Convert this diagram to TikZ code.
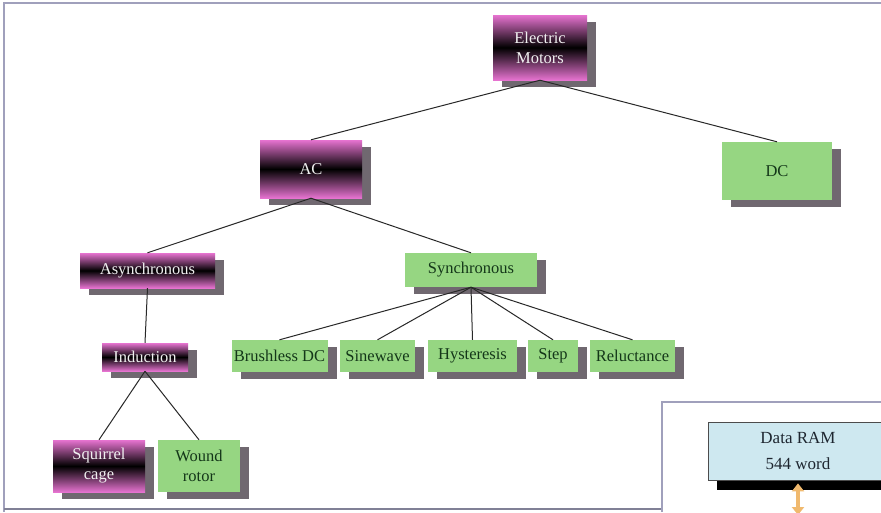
\documentclass[tikz,border=0pt]{standalone}
\usepackage{fontspec}
\setmainfont{Liberation Serif}
\usetikzlibrary{arrows.meta}
\definecolor{magc}{RGB}{230,115,208}
\definecolor{grnc}{RGB}{150,214,130}
\definecolor{txtg}{RGB}{20,55,25}
\definecolor{shad}{RGB}{112,104,112}
\definecolor{framec}{RGB}{160,160,188}
\definecolor{ramc}{RGB}{206,232,240}
\definecolor{ramtxt}{RGB}{30,38,48}
\definecolor{orangec}{RGB}{240,185,110}
\definecolor{linec}{RGB}{40,40,40}
\tikzset{
  basebox/.style={rectangle, inner sep=0pt, align=center,
    font=\fontsize{16.5}{20}\selectfont,
    preaction={fill=shad, transform canvas={shift={(9pt,-7pt)}}}},
  magbox/.style={basebox, top color=magc, bottom color=magc, middle color=black, text=white!88!gray},
  grnbox/.style={basebox, fill=grnc, text=txtg},
  conn/.style={draw=linec, line width=1pt},
  framel/.style={draw=framec, line width=1.5pt}
}
\begin{document}
\begin{tikzpicture}[x=1pt,y=-1pt]
\useasboundingbox (0,0) rectangle (881,512);
\clip (0,0) rectangle (881,512);
\fill[white] (0,0) rectangle (881,512);
% frames
\draw[framel] (4,512) -- (4,3) -- (881,3);
\draw[framel, line width=2pt, draw=framec!80!black] (4,508.5) -- (662,508.5);
\draw[framel, line width=1.2pt] (662,512) -- (662,402) -- (881,402);
% nodes
\node[magbox, minimum width=94, minimum height=65] (em) at (540,47.5) {Electric\\Motors};
\node[magbox, minimum width=102, minimum height=58] (ac) at (311,169) {AC};
\node[grnbox, minimum width=110, minimum height=58] (dc) at (777,171) {DC};
\node[magbox, minimum width=135, minimum height=35] (as) at (147.5,270.5) {Asynchronous};
\node[grnbox, minimum width=132, minimum height=34] (sy) at (471,270) {Synchronous};
\node[magbox, minimum width=86, minimum height=28] (in) at (145,357) {Induction};
\node[grnbox, minimum width=96, minimum height=32] (bd) at (279.5,356) {Brushless DC};
\node[grnbox, minimum width=75, minimum height=32] (sw) at (377.5,356) {Sinewave};
\node[grnbox, minimum width=89, minimum height=32] (hy) at (472.5,356) {Hysteresis};
\node[grnbox, minimum width=50, minimum height=32] (st) at (553,356) {Step};
\node[grnbox, minimum width=85, minimum height=32] (re) at (632.5,356) {Reluctance};
\node[magbox, minimum width=92, minimum height=52] (sq) at (99,466) {Squirrel\\cage};
\node[grnbox, minimum width=82, minimum height=52] (wr) at (199,466) {Wound\\rotor};
% connectors
\draw[conn] (em.south) -- (ac.north);
\draw[conn] (em.south) -- (dc.north);
\draw[conn] (ac.south) -- (as.north);
\draw[conn] (ac.south) -- (sy.north);
\draw[conn] (as.south) -- (in.north);
\draw[conn] (sy.south) -- (bd.north);
\draw[conn] (sy.south) -- (sw.north);
\draw[conn] (sy.south) -- (hy.north);
\draw[conn] (sy.south) -- (st.north);
\draw[conn] (sy.south) -- (re.north);
\draw[conn] (in.south) -- (sq.north);
\draw[conn] (in.south) -- (wr.north);
% Data RAM
\node[rectangle, draw=black!70, line width=0.8pt, fill=ramc, text=ramtxt, align=center,
  minimum width=180, minimum height=58, inner sep=0pt,
  font=\fontsize{17}{26}\selectfont,
  preaction={fill=black, transform canvas={shift={(9pt,-10pt)}}}] (ram) at (798,451) {Data RAM\\544 word};
\coordinate (ramend) at (798,515);
\draw[orangec, line width=4pt, {Triangle[width=12pt,length=8pt]}-{Triangle[width=12pt,length=8pt]}] ([yshift=-3pt]ram.south) -- (ramend);
\end{tikzpicture}
\end{document}
